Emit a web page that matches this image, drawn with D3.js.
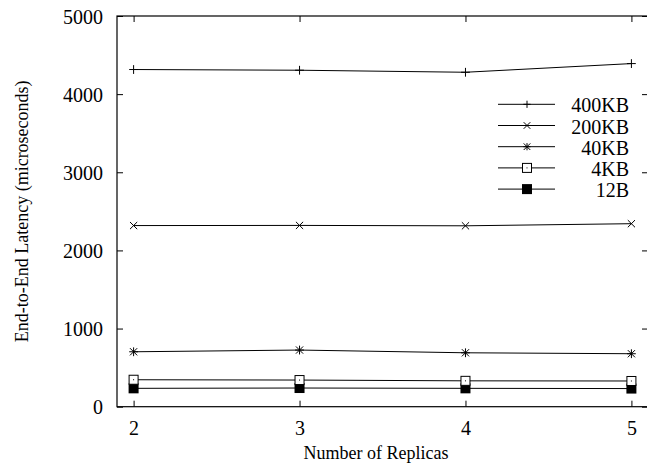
<!DOCTYPE html>
<html>
<head>
<meta charset="utf-8">
<script src="https://cdn.jsdelivr.net/npm/d3@7"></script>
<style>
  html, body { margin: 0; padding: 0; background: #fff; }
  svg { display: block; }
  text { font-family: "Liberation Serif", "Times New Roman", serif; fill: #000; }
</style>
</head>
<body>
<svg id="chart" width="647" height="470"></svg>
<script>
const replicas = [2, 3, 4, 5];
const seriesNames = ["400KB", "200KB", "40KB", "4KB", "12B"];
const v400KB = [4315, 4306, 4280, 4391];
const v200KB = [2318, 2320, 2315, 2342];
const v40KB  = [703, 725, 690, 678];
const v4KB   = [345, 341, 331, 329];
const v12B   = [235, 239, 235, 232];
const yTicks = [0, 1000, 2000, 3000, 4000, 5000];
const xTicks = [2, 3, 4, 5];
const markerTypes = ["plus", "cross", "star", "box", "fbox"];
const allValues = [v400KB, v200KB, v40KB, v4KB, v12B];

(function () {
const svg = d3.select("#chart");
const pLeft = 117, pRight = 648, pTop = 16, pBottom = 406.7;

const x = d3.scaleLinear().domain([1.9, 5.1]).range([pLeft, pRight]);
const y = d3.scaleLinear().domain([0, 5000]).range([pBottom, pTop]);

const fontSize = 20;
const labelSize = 18;
const ff = '"Liberation Serif", "Times New Roman", serif';

// frame
svg.append("rect")
  .attr("x", pLeft).attr("y", pTop)
  .attr("width", pRight - pLeft).attr("height", pBottom - pTop)
  .attr("fill", "none").attr("stroke", "#000").attr("stroke-width", 1.2);

// axes
const yAxis = d3.axisLeft(y).tickValues(yTicks).tickSizeInner(-6).tickSizeOuter(0).tickPadding(14).tickFormat(d3.format("d"));
const gy = svg.append("g").attr("transform", `translate(${pLeft},0)`).call(yAxis);
const xAxis = d3.axisBottom(x).tickValues(xTicks).tickSizeInner(-6).tickSizeOuter(0).tickFormat(d3.format("d"));
const gx = svg.append("g").attr("transform", `translate(0,${pBottom})`).call(xAxis);
// mirror ticks
const yAxisR = d3.axisRight(y).tickValues(yTicks).tickSizeInner(-6).tickSizeOuter(0).tickFormat("");
svg.append("g").attr("transform", `translate(${pRight},0)`).call(yAxisR);
const xAxisT = d3.axisTop(x).tickValues(xTicks).tickSizeInner(-6).tickSizeOuter(0).tickFormat("");
svg.append("g").attr("transform", `translate(0,${pTop})`).call(xAxisT);

svg.selectAll("g").attr("font-family", ff).attr("font-size", fontSize);
svg.selectAll(".domain").remove();
svg.selectAll(".tick line").attr("stroke", "#000").attr("stroke-width", 1);
svg.selectAll(".tick text").attr("fill", "#000");
gy.selectAll(".tick text").attr("dy", "0.36em");
gx.selectAll(".tick text").attr("dy", 0).attr("y", 28.5);

// axis labels
svg.append("text")
  .attr("transform", `translate(28,${(pTop + pBottom) / 2}) rotate(-90)`)
  .attr("text-anchor", "middle")
  .attr("font-size", labelSize)
  .text("End-to-End Latency (microseconds)");
svg.append("text")
  .attr("x", 376).attr("y", 459)
  .attr("text-anchor", "middle")
  .attr("font-size", labelSize)
  .text("Number of Replicas");

function drawMarker(g, type, cx, cy, small) {
  const s = small ? 3.6 : 4.4;
  if (type === "plus" || type === "star") {
    g.append("path").attr("d", `M${cx - s},${cy}H${cx + s}M${cx},${cy - s}V${cy + s}`)
      .attr("stroke", "#000").attr("stroke-width", 1).attr("fill", "none");
  }
  if (type === "cross" || type === "star") {
    const c = small ? 3.3 : 3.6;
    g.append("path").attr("d", `M${cx - c},${cy - c}L${cx + c},${cy + c}M${cx - c},${cy + c}L${cx + c},${cy - c}`)
      .attr("stroke", "#000").attr("stroke-width", 1).attr("fill", "none");
  }
  if (type === "box") {
    g.append("rect").attr("x", cx - 4.5).attr("y", cy - 4.5).attr("width", 9).attr("height", 9)
      .attr("fill", "#fff").attr("stroke", "#000").attr("stroke-width", 1);
    g.append("rect").attr("x", cx - 0.5).attr("y", cy - 0.5).attr("width", 1).attr("height", 1).attr("fill", "#000");
  }
  if (type === "fbox") {
    g.append("rect").attr("x", cx - 5).attr("y", cy - 5).attr("width", 10).attr("height", 10)
      .attr("fill", "#000");
  }
}

const line = d3.line().x((d, i) => x(replicas[i])).y(d => y(d));

const order = [4, 3, 2, 1, 0];
order.forEach(k => {
  const vals = allValues[k];
  const g = svg.append("g");
  g.append("path").datum(vals).attr("d", line)
    .attr("fill", "none").attr("stroke", "#000").attr("stroke-width", 1);
  vals.forEach((v, i) => drawMarker(g, markerTypes[k], x(replicas[i]), y(v), false));
});

// legend
const legX1 = 498, legX2 = 555, legText = 629, legY0 = 104.3, legDy = 21.2;
seriesNames.forEach((name, k) => {
  const ly = legY0 + k * legDy;
  const g = svg.append("g");
  g.append("line").attr("x1", legX1).attr("x2", legX2).attr("y1", ly).attr("y2", ly)
    .attr("stroke", "#000").attr("stroke-width", 1);
  drawMarker(g, markerTypes[k], 527, ly, true);
  g.append("text").attr("x", legText).attr("y", ly + 8)
    .attr("text-anchor", "end").attr("font-family", ff).attr("font-size", fontSize).text(name);
});
})();
</script>
</body>
</html>
